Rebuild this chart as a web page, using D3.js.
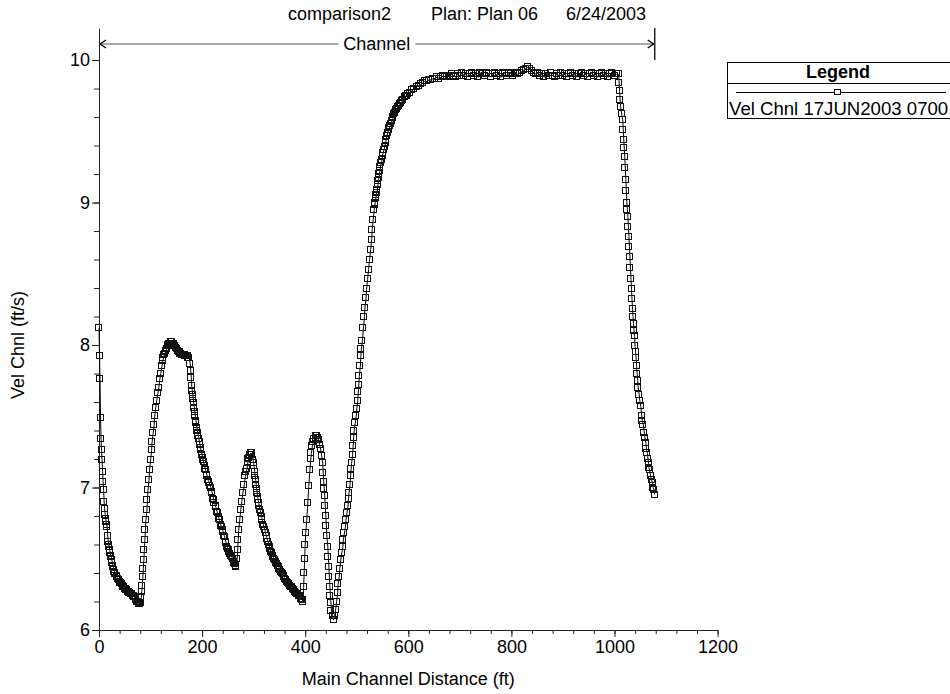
<!DOCTYPE html>
<html><head><meta charset="utf-8">
<script src="https://cdn.jsdelivr.net/npm/d3@7"></script>
<style>
body{margin:0;background:#fff}
svg{display:block}
text{font-family:"Liberation Sans",Arial,sans-serif;fill:#000}
</style>
</head><body>
<svg id="chart" width="950" height="694"></svg>
<script>
// ---------------- data ----------------
const titleParts = ["comparison2", "Plan: Plan 06", "6/24/2003"];
const xTicks = [0, 200, 400, 600, 800, 1000, 1200];
const yTicks = [6, 7, 8, 9, 10];
const xMinorStep = 40;
const yMinorStep = 0.2;
const channelBanks = [0, 1078];
const channelLabel = "Channel";
const xTitle = "Main Channel Distance (ft)";
const yTitle = "Vel Chnl (ft/s)";
const legendTitle = "Legend";
const seriesName = "Vel Chnl 17JUN2003 0700";

// [main channel distance (ft), channel velocity (ft/s)]
const velProfile = [
 [0,8.12],[1,7.92],[2,7.76],[3,7.49],[4,7.34],[5,7.26],[6,7.19],[7,7.11],[8,7.04],[9,6.98],
 [10,6.90],[11,6.85],[12,6.81],[13,6.78],[14,6.76],[15,6.74],[16,6.72],[17,6.66],[18,6.62],[19,6.60],
 [20,6.58],[21,6.56],[22,6.54],[23,6.52],[24,6.51],[25,6.49],[26,6.47],[27,6.45],[28,6.44],[29,6.42],
 [30,6.41],[31,6.40],[32,6.39],[34,6.38],[35,6.37],[37,6.36],[38,6.35],[40,6.34],[41,6.33],[43,6.33],
 [44,6.32],[46,6.31],[47,6.30],[49,6.30],[50,6.29],[52,6.29],[53,6.28],[55,6.28],[56,6.27],[58,6.27],
 [59,6.26],[61,6.26],[62,6.25],[64,6.25],[65,6.24],[67,6.24],[68,6.23],[70,6.23],[71,6.22],[72,6.21],
 [74,6.20],[75,6.20],[77,6.19],[78,6.18],[79,6.18],[80,6.18],[81,6.19],
 [82,6.23],[83,6.27],[84,6.31],[85,6.37],[86,6.43],[87,6.49],[88,6.56],[89,6.63],[90,6.70],[91,6.77],
 [93,6.84],[94,6.91],[95,6.98],[97,7.05],[98,7.12],[100,7.19],[102,7.26],[103,7.32],[105,7.38],[107,7.44],
 [108,7.50],[110,7.56],[112,7.61],[114,7.66],[116,7.70],[118,7.76],[120,7.80],[122,7.85],[124,7.89],[125,7.91],
 [127,7.93],[128,7.94],[130,7.96],[131,7.97],[133,7.99],[134,8.00],[136,8.01],[137,8.01],[139,8.02],[140,8.02],
 [142,8.02],[143,8.01],[145,8.01],[146,8.00],[148,7.99],[149,7.98],[151,7.97],[152,7.97],[154,7.96],[155,7.95],
 [157,7.95],[158,7.94],[160,7.94],[161,7.93],[163,7.93],[164,7.93],[166,7.93],[167,7.92],[169,7.92],[170,7.92],
 [172,7.92],[173,7.91],[175,7.91],
 [177,7.87],[178,7.82],[179,7.77],[180,7.71],[181,7.68],[182,7.65],[183,7.62],[184,7.59],[185,7.56],[186,7.53],
 [187,7.50],[188,7.47],[189,7.45],[190,7.42],[191,7.40],[192,7.38],[193,7.36],[194,7.34],[195,7.32],[196,7.30],
 [197,7.28],[198,7.26],[200,7.23],[201,7.21],[202,7.19],[203,7.18],[205,7.15],[206,7.13],[207,7.12],[209,7.09],
 [210,7.08],[212,7.05],[213,7.04],[214,7.03],[216,7.01],[217,7.00],[219,6.97],[220,6.96],[222,6.92],[223,6.91],
 [224,6.89],[226,6.87],[227,6.86],[229,6.83],[230,6.82],[232,6.79],[233,6.78],[234,6.77],[236,6.74],[237,6.73],
 [238,6.72],[240,6.70],[241,6.69],[243,6.66],[244,6.65],[246,6.62],[247,6.61],[249,6.58],[250,6.57],[252,6.56],
 [253,6.55],[255,6.53],[256,6.52],[258,6.51],[259,6.50],[261,6.48],[262,6.47],[264,6.46],[265,6.45],[266,6.44],
 [268,6.50],[269,6.56],[270,6.63],[271,6.70],[273,6.77],[275,6.84],[277,6.90],[279,6.96],[282,7.02],[284,7.08],
 [286,7.11],[287,7.13],[289,7.18],[290,7.20],[291,7.21],[293,7.23],[294,7.24],[295,7.24],[296,7.24],[297,7.23],[299,7.19],
 [300,7.17],[301,7.15],[302,7.11],[303,7.08],[304,7.05],[305,7.02],[306,6.99],[307,6.96],[308,6.93],[309,6.91],
 [310,6.89],[311,6.87],[313,6.84],[314,6.82],[316,6.79],[317,6.77],[319,6.74],[320,6.72],[322,6.70],[323,6.68],
 [325,6.66],[326,6.64],[328,6.62],[329,6.60],[331,6.58],[332,6.57],[334,6.55],[335,6.54],[337,6.52],[338,6.51],
 [340,6.50],[341,6.49],[343,6.48],[344,6.47],[346,6.46],[347,6.45],[349,6.44],[350,6.43],[352,6.42],[353,6.41],
 [355,6.40],[356,6.39],[358,6.38],[359,6.37],[361,6.36],[362,6.35],[364,6.34],[365,6.34],[367,6.33],[368,6.32],
 [370,6.31],[371,6.31],[373,6.30],[374,6.30],[376,6.29],[377,6.29],[379,6.28],[380,6.27],[382,6.26],[383,6.26],
 [385,6.25],[386,6.25],[388,6.24],[389,6.24],[391,6.23],[392,6.22],[394,6.21],[395,6.21],[396,6.20],
 [397,6.30],[398,6.40],[399,6.50],[400,6.60],[401,6.68],[403,6.77],[405,6.89],[407,7.01],[409,7.12],[411,7.20],
 [412,7.24],[414,7.29],[416,7.32],[418,7.34],[420,7.35],[421,7.36],[422,7.36],[423,7.36],[424,7.35],[426,7.33],
 [428,7.30],[430,7.27],[432,7.22],[434,7.17],[435,7.10],[436,7.04],[437,6.99],[438,6.94],[439,6.87],[440,6.80],
 [441,6.73],[442,6.66],[444,6.58],[445,6.51],[446,6.44],[447,6.37],[448,6.30],[449,6.24],[450,6.19],[451,6.13],
 [453,6.10],[455,6.07],
 [457,6.10],[459,6.14],[461,6.20],[463,6.26],[464,6.32],[466,6.37],[467,6.43],[469,6.49],[471,6.54],[473,6.58],
 [474,6.63],[476,6.68],[478,6.72],[479,6.77],[481,6.82],[483,6.87],[484,6.92],[485,6.96],[487,7.02],[488,7.08],
 [489,7.13],[490,7.17],[492,7.23],[493,7.29],[494,7.35],[495,7.40],[497,7.45],[499,7.50],[500,7.55],[502,7.61],
 [503,7.67],[504,7.72],[505,7.78],[507,7.85],[508,7.92],[509,7.97],[511,8.03],[513,8.12],[515,8.20],[516,8.26],
 [518,8.33],[519,8.39],[521,8.46],[523,8.53],[525,8.60],[527,8.67],[529,8.74],[530,8.81],[532,8.88],[534,8.95],
 [535,8.98],[536,9.00],[537,9.03],[538,9.05],[539,9.07],[540,9.09],[541,9.12],[542,9.15],[543,9.17],[544,9.20],
 [545,9.22],[546,9.25],[548,9.28],[549,9.30],[550,9.33],[551,9.35],[553,9.37],[554,9.39],[556,9.42],[557,9.44],
 [559,9.47],[560,9.49],[562,9.51],[563,9.52],[565,9.54],[566,9.55],[568,9.57],[570,9.59],[571,9.60],[573,9.62],
 [575,9.63],[577,9.65],[578,9.66],[580,9.67],[582,9.68],[584,9.69],[586,9.70],[588,9.71],[590,9.72],[593,9.74],
 [595,9.75],[597,9.75],
 [600,9.76],[604,9.77],[608,9.79],[612,9.80],[616,9.81],[620,9.82],[624,9.83],[628,9.84],[632,9.85],[636,9.85],
 [640,9.86],[644,9.86],[648,9.87],[652,9.87],[656,9.88],[660,9.87],[664,9.88],[668,9.89],[672,9.88],[676,9.89],
 [680,9.88],[684,9.90],[688,9.89],[692,9.88],[696,9.90],[700,9.89],[704,9.91],[708,9.89],[712,9.90],[716,9.88],
 [720,9.90],[724,9.91],[728,9.89],[732,9.90],[736,9.88],[740,9.91],[744,9.90],[748,9.89],[752,9.91],[756,9.90],
 [760,9.88],[764,9.90],[768,9.91],[772,9.89],[776,9.90],[780,9.88],[784,9.91],[788,9.90],[792,9.89],[796,9.91],
 [800,9.90],[804,9.89],[808,9.91],[812,9.90],[816,9.91],[820,9.92],[824,9.93],[828,9.94],[832,9.95],[836,9.94],
 [840,9.92],[844,9.91],[848,9.90],[852,9.91],[856,9.89],[860,9.90],[864,9.88],[868,9.90],[872,9.89],[876,9.91],
 [880,9.89],[884,9.88],[888,9.90],[892,9.89],[896,9.91],[900,9.89],[904,9.90],[908,9.88],[912,9.90],[916,9.91],
 [920,9.89],[924,9.90],[928,9.88],[932,9.90],[936,9.91],[940,9.89],[944,9.90],[948,9.88],[952,9.90],[956,9.91],
 [960,9.89],[964,9.90],[968,9.88],[972,9.90],[976,9.91],[980,9.89],[984,9.90],[988,9.88],[992,9.90],[996,9.91],
 [1000,9.89],[1004,9.90],[1008,9.90],
 [1009,9.84],[1010,9.78],[1011,9.72],[1012,9.67],[1014,9.62],[1016,9.58],[1017,9.51],[1018,9.44],[1019,9.38],[1020,9.32],
 [1021,9.24],[1022,9.16],[1023,9.08],[1024,9.00],[1025,8.95],[1026,8.90],[1027,8.83],[1028,8.76],[1029,8.69],[1030,8.62],
 [1031,8.54],[1032,8.46],[1033,8.39],[1034,8.32],[1035,8.25],[1036,8.20],[1037,8.15],[1038,8.10],[1039,8.06],[1040,7.99],
 [1041,7.95],[1042,7.91],[1043,7.85],[1044,7.80],[1045,7.75],[1046,7.70],[1048,7.65],[1049,7.61],[1051,7.57],[1053,7.50],
 [1054,7.47],[1056,7.44],[1058,7.38],[1059,7.35],[1061,7.31],[1062,7.27],[1064,7.24],[1065,7.20],[1066,7.17],[1067,7.14],
 [1068,7.12],[1070,7.08],[1072,7.05],[1074,7.03],[1075,7.00],[1077,6.98],[1078,6.95]
];

// ---------------- drawing ----------------
const svg = d3.select("#chart");
const FS = 18;
const FONT = '"Liberation Sans",Arial,sans-serif';
const x = d3.scaleLinear().domain([0, 1200]).range([99, 717.6]);
const y = d3.scaleLinear().domain([6, 10.225]).range([630, 28]);

// title
const titleX = [288, 431, 566];
svg.selectAll("text.title").data(titleParts).join("text")
  .attr("class", "title")
  .attr("x", (d, i) => titleX[i]).attr("y", 20)
  .attr("font-size", FS).text(d => d);

// minor ticks
const xMinor = d3.range(0, 1200 + 1e-6, xMinorStep);
const yMinor = d3.range(6, 10.0 + 1e-6, yMinorStep);
svg.append("g").attr("transform", `translate(0,${y(6)})`)
  .call(d3.axisBottom(x).tickValues(xMinor).tickSize(4).tickFormat(""))
  .call(g => g.select(".domain").remove())
  .call(g => g.selectAll("line").attr("stroke", "#222"));
svg.append("g").attr("transform", `translate(${x(0)},0)`)
  .call(d3.axisLeft(y).tickValues(yMinor).tickSize(5).tickFormat(""))
  .call(g => g.select(".domain").remove())
  .call(g => g.selectAll("line").attr("stroke", "#222"));

// major axes
const gx = svg.append("g").attr("transform", `translate(0,${y(6)})`)
  .call(d3.axisBottom(x).tickValues(xTicks).tickSize(7).tickSizeOuter(0).tickPadding(3).tickFormat(d3.format("d")));
gx.selectAll("text").attr("font-size", FS).attr("font-family", FONT).attr("fill", "#000");
gx.selectAll("line,path").attr("stroke", "#222");

const gy = svg.append("g").attr("transform", `translate(${x(0)},0)`)
  .call(d3.axisLeft(y).tickValues(yTicks).tickSize(7).tickSizeOuter(0).tickPadding(2).tickFormat(d3.format("d")));
gy.selectAll("text").attr("font-size", FS).attr("font-family", FONT).attr("fill", "#000");
gy.selectAll("line,path").attr("stroke", "#222");

// axis titles
svg.append("text").attr("x", (x(0) + x(1200)) / 2).attr("y", 685)
  .attr("text-anchor", "middle").attr("font-size", FS).text(xTitle);
svg.append("text").attr("transform", `translate(24,${(y(6) + y(10)) / 2}) rotate(-90)`)
  .attr("text-anchor", "middle").attr("font-size", FS).text(yTitle);

// channel bracket
const bx0 = x(channelBanks[0]), bx1 = x(channelBanks[1]);
const by = 44;
svg.append("line").attr("x1", bx1).attr("x2", bx1).attr("y1", y(10.225)).attr("y2", 60)
  .attr("stroke", "#222").attr("stroke-width", 1.5);
const cx = (bx0 + bx1) / 2;
const chText = svg.append("text").attr("x", cx).attr("y", by + 6)
  .attr("text-anchor", "middle").attr("font-size", FS).text(channelLabel);
const tw = chText.node().getComputedTextLength();
svg.append("line").attr("x1", bx0).attr("x2", cx - tw / 2 - 5).attr("y1", by).attr("y2", by).attr("stroke", "#555");
svg.append("line").attr("x1", cx + tw / 2 + 5).attr("x2", bx1).attr("y1", by).attr("y2", by).attr("stroke", "#555");
svg.append("path").attr("d", `M${bx0 + 7},${by - 4}L${bx0 + 1},${by}L${bx0 + 7},${by + 4}`)
  .attr("fill", "none").attr("stroke", "#000").attr("stroke-width", 1.3);
svg.append("path").attr("d", `M${bx1 - 7},${by - 4}L${bx1 - 1},${by}L${bx1 - 7},${by + 4}`)
  .attr("fill", "none").attr("stroke", "#000").attr("stroke-width", 1.3);

// series line + markers
const line = d3.line().x(d => x(d[0])).y(d => y(d[1]));
svg.append("path").datum(velProfile).attr("d", line)
  .attr("fill", "none").attr("stroke", "#000").attr("stroke-width", 1);
const MS = 6; // inner size; outer edge = 7px
svg.append("g").attr("shape-rendering", "crispEdges")
  .selectAll("rect").data(velProfile).join("rect")
  .attr("x", d => Math.round(x(d[0])) - MS / 2 - 0.5)
  .attr("y", d => Math.round(y(d[1])) - MS / 2 - 0.5)
  .attr("width", MS).attr("height", MS)
  .attr("fill", "none").attr("stroke", "#111").attr("stroke-width", 1);

// legend
const L = { x: 727, y: 62, w: 240, h: 56, div: 83 };
const lg = svg.append("g");
lg.append("rect").attr("x", L.x + 0.5).attr("y", L.y + 0.5).attr("width", L.w).attr("height", L.h)
  .attr("fill", "#fff").attr("stroke", "#000");
lg.append("line").attr("x1", L.x).attr("x2", L.x + L.w).attr("y1", L.div + 0.5).attr("y2", L.div + 0.5).attr("stroke", "#000");
lg.append("text").attr("x", 838).attr("y", 78).attr("text-anchor", "middle")
  .attr("font-size", FS).attr("font-weight", "bold").text(legendTitle);
lg.append("line").attr("x1", 736).attr("x2", 946).attr("y1", 92.5).attr("y2", 92.5).attr("stroke", "#000");
lg.append("rect").attr("x", 838 - 3.5).attr("y", 92 - 2.5).attr("width", 6).attr("height", 5)
  .attr("fill", "#fff").attr("stroke", "#000");
lg.append("text").attr("x", 729).attr("y", 115).attr("font-size", 18.6).text(seriesName);
</script>
</body></html>
